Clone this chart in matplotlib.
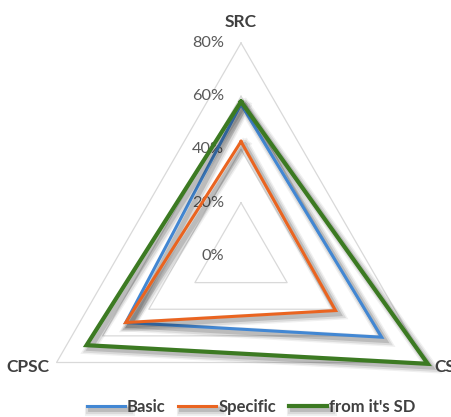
import numpy as np
import matplotlib
matplotlib.use("Agg")
import matplotlib.pyplot as plt
import matplotlib.patheffects as pe
from matplotlib.transforms import offset_copy

plt.rcParams['font.family'] = ['Lato', 'DejaVu Sans']

# categories around the radar, clockwise from the top
categories = ['SRC', 'CS', 'CPSC']
basic = [0.57, 0.61, 0.50]
specific = [0.43, 0.41, 0.50]
from_sd = [0.58, 0.81, 0.67]
levels = [0.2, 0.4, 0.6, 0.8]
level_labels = ['0%', '20%', '40%', '60%', '80%']

series = [
    ('Basic', basic, '#4287D3', 2.2),
    ('Specific', specific, '#EA6420', 2.2),
    ("from it's SD", from_sd, '#3C7A22', 3.0),
]

angles = np.linspace(0, 2 * np.pi, len(categories), endpoint=False)
closed_angles = np.append(angles, angles[0])

fig = plt.figure(figsize=(4.52, 4.17), dpi=100)
ax = fig.add_axes([0.062, -0.1247, 0.9425, 1.0216], projection='polar')
ax.set_theta_zero_location('N')
ax.set_theta_direction(-1)
ax.set_ylim(0, 0.8)
ax.grid(False)
ax.spines['polar'].set_visible(False)
ax.set_xticks([])
ax.set_yticks([])
ax.patch.set_alpha(0)

# triangular gridlines
for lv in levels:
    ax.plot(closed_angles, [lv] * len(closed_angles), color='#D9D9D9',
            lw=0.9, zorder=1, clip_on=False)

# soft drop shadow under each series
shadow = [
    pe.SimpleLineShadow(offset=(2.6, -2.6), shadow_color='black', alpha=0.06, linewidth=8),
    pe.SimpleLineShadow(offset=(2.6, -2.6), shadow_color='black', alpha=0.09, linewidth=6),
    pe.SimpleLineShadow(offset=(2.4, -2.4), shadow_color='black', alpha=0.14, linewidth=3.5),
    pe.Normal(),
]

for name, vals, color, lw in series:
    r = np.append(vals, vals[0])
    ax.plot(closed_angles, r, color=color, lw=lw, label=name, zorder=3,
            clip_on=False, solid_joinstyle='miter', path_effects=shadow)

# radial value labels, left of the top spoke
lab_tr = offset_copy(ax.transData, fig=fig, x=-17, y=0, units='dots')
for lv, txt in zip([0.0] + levels, level_labels):
    ax.text(0, lv, txt, transform=lab_tr, ha='right', va='center',
            fontsize=11.8, color='#595959', zorder=2)

# category labels at the outer vertices
offsets = [(0, 21, 'center', 'center'), (9, -5, 'left', 'center'), (-7, -5, 'right', 'center')]
for ang, cat, (dx, dy, ha, va) in zip(angles, categories, offsets):
    tr = offset_copy(ax.transData, fig=fig, x=dx, y=dy, units='dots')
    ax.text(ang, 0.8, cat, transform=tr, ha=ha, va=va, fontsize=12.5,
            fontweight='bold', color='#404040')

fig.legend(loc='center', bbox_to_anchor=(251 / 452, 0.024), ncol=3,
           frameon=False, handlelength=2.3, handletextpad=0.12,
           columnspacing=0.75, prop={'weight': 'bold', 'size': 12},
           labelcolor='#404040')

fig.savefig('out.png', dpi=100)
